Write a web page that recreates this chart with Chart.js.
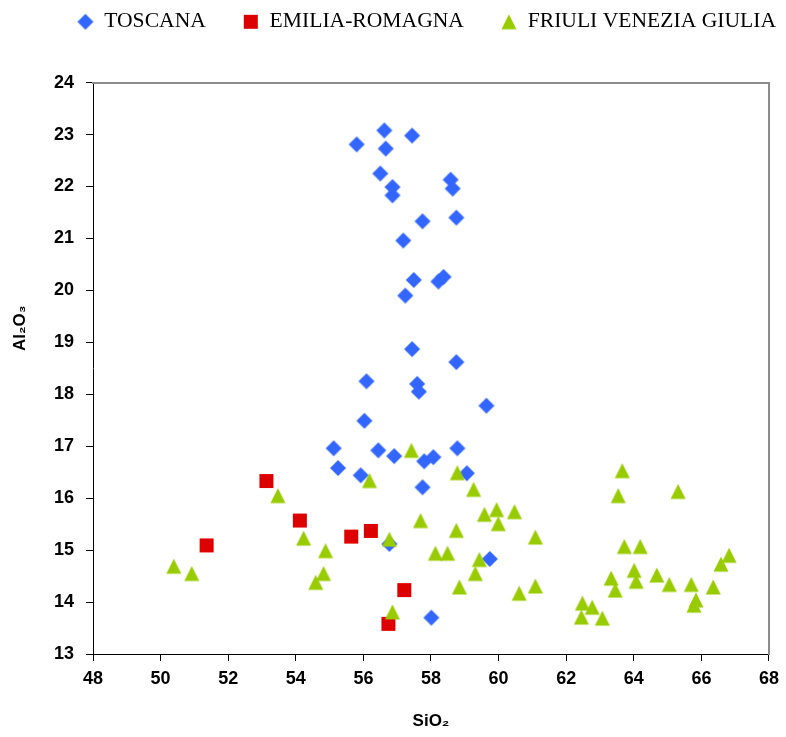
<!DOCTYPE html>
<html>
<head>
<meta charset="utf-8">
<script src="https://cdn.jsdelivr.net/npm/chart.js@4.4.0/dist/chart.umd.min.js"></script>
<style>
html,body{margin:0;padding:0;background:#fff;}
#wrap{width:786px;height:737px;position:relative;}
</style>
</head>
<body>
<div id="wrap"><canvas id="c" width="786" height="737"></canvas></div>
<script>
// ---- data ----
const seriesNames = ['TOSCANA', 'EMILIA-ROMAGNA', 'FRIULI VENEZIA GIULIA'];

const toscanaSiO2 = [55.80,56.62,56.66,57.44,56.50,56.86,56.86,58.58,58.64,57.75,58.75,57.18,57.49,58.22,58.37,57.24,57.44,58.75,56.09,57.59,57.64,59.64,56.03,55.12,56.44,58.78,55.25,56.91,57.80,58.07,59.06,55.92,57.75,56.77,59.74,58.01];
const toscanaAl2O3 = [22.81,23.08,22.73,22.98,22.25,21.99,21.83,22.13,21.96,21.33,21.40,20.96,20.20,20.17,20.26,19.90,18.87,18.62,18.25,18.20,18.05,17.78,17.49,16.96,16.92,16.96,16.58,16.81,16.71,16.79,16.48,16.44,16.21,15.12,14.83,13.70];

const emiliaSiO2 = [51.36,53.13,54.12,55.64,56.22,57.21,56.74];
const emiliaAl2O3 = [15.09,16.33,15.57,15.26,15.37,14.23,13.58];

const friuliSiO2 = [50.39,50.92,53.47,54.23,54.88,54.82,54.59,57.42,56.18,58.78,59.26,59.58,59.94,60.47,59.99,57.69,58.75,56.77,58.13,58.49,59.43,59.31,58.84,60.61,56.86,61.09,61.09,63.66,63.54,65.31,63.72,64.19,64.01,64.07,63.33,63.45,64.68,65.05,65.70,66.35,65.84,65.78,66.82,66.58,62.48,62.45,62.77,63.07];
const friuliAl2O3 = [14.69,14.55,16.05,15.23,14.99,14.55,14.38,16.92,16.34,16.49,16.17,15.69,15.78,15.74,15.51,15.57,15.38,15.21,14.94,14.94,14.82,14.55,14.29,14.17,13.81,15.25,14.31,16.53,16.05,16.13,15.07,15.07,14.61,14.40,14.46,14.23,14.52,14.34,14.34,14.29,14.04,13.94,14.90,14.73,13.98,13.71,13.90,13.69];

const xMin = 48, xMax = 68, xStep = 2;
const yMin = 13, yMax = 24, yStep = 1;
const xTitle = 'SiO\u2082';
const yTitle = 'Al\u2082O\u2083';

// ---- markers ----
function marker(kind, color) {
  const c = document.createElement('canvas');
  c.width = 18; c.height = 18;
  const g = c.getContext('2d');
  g.fillStyle = color;
  g.beginPath();
  if (kind === 'diamond') {
    g.moveTo(9, 1); g.lineTo(17, 9); g.lineTo(9, 17); g.lineTo(1, 9);
  } else if (kind === 'square') {
    g.rect(2, 2, 14, 14);
  } else {
    g.moveTo(9, 1.5); g.lineTo(16.5, 16.5); g.lineTo(1.5, 16.5);
  }
  g.closePath();
  g.fill();
  return c;
}
const blue = '#3366FF', red = '#DD0000', green = '#99CC00';

function pts(xs, ys) { return xs.map((x, i) => ({x: x, y: ys[i]})); }

const pad = (s, n) => s + ' '.repeat(n);

const frame = '#8C8C8C';
const tickFont = {family: 'Liberation Sans', size: 18, weight: 'bold'};
const titleFont = {family: "'Liberation Sans', 'DejaVu Sans'", size: 17, weight: 'bold'};

new Chart(document.getElementById('c'), {
  type: 'scatter',
  data: {
    datasets: [
      {label: pad(seriesNames[0], 5), data: pts(toscanaSiO2, toscanaAl2O3), pointStyle: marker('diamond', blue), backgroundColor: blue, borderColor: blue, order: 2},
      {label: pad(seriesNames[1], 5), data: pts(emiliaSiO2, emiliaAl2O3), pointStyle: marker('square', red), backgroundColor: red, borderColor: red, order: 1},
      {label: seriesNames[2], data: pts(friuliSiO2, friuliAl2O3), pointStyle: marker('triangle', green), backgroundColor: green, borderColor: green, order: 0}
    ]
  },
  options: {
    responsive: false,
    animation: false,
    events: [],
    layout: {padding: {top: 1, left: 0, right: 0, bottom: 0}},
    plugins: {
      tooltip: {enabled: false},
      legend: {
        position: 'top',
        align: 'end',
        labels: {
          usePointStyle: true,
          boxWidth: 16,
          boxHeight: 16,
          padding: 10,
          color: '#000',
          font: {family: 'Liberation Serif', size: 21.6},
          sort: (a, b) => a.datasetIndex - b.datasetIndex
        }
      }
    },
    scales: {
      x: {
        type: 'linear', position: 'bottom', min: xMin, max: xMax,
        afterFit: s => { s.height = 83; },
        ticks: {stepSize: xStep, color: '#000', font: tickFont, padding: 7, maxRotation: 0, autoSkip: false},
        grid: {drawOnChartArea: false, drawTicks: true, tickLength: 7, color: '#000'},
        border: {display: true, color: '#000', width: 1},
        title: {display: true, text: xTitle, color: '#000', font: titleFont, padding: {top: 0, bottom: 5}}
      },
      y: {
        type: 'linear', position: 'left', min: yMin, max: yMax,
        afterFit: s => { s.width = 93; },
        ticks: {stepSize: yStep, color: '#000', font: tickFont, padding: 12},
        grid: {drawOnChartArea: false, drawTicks: true, tickLength: 7, color: '#000'},
        border: {display: true, color: '#000', width: 1},
        title: {display: true, text: ' '.repeat(17) + yTitle, color: '#000', font: titleFont, padding: {top: 10, bottom: 0}}
      },
      xTop: {
        type: 'linear', position: 'top', min: xMin, max: xMax,
        afterFit: s => { s.height = 40; },
        ticks: {display: false},
        grid: {display: false},
        border: {display: true, color: frame, width: 2}
      },
      yRight: {
        type: 'linear', position: 'right', min: yMin, max: yMax,
        afterFit: s => { s.width = 15; },
        ticks: {display: false},
        grid: {display: false},
        border: {display: true, color: frame, width: 2}
      }
    }
  }
});
</script>
</body>
</html>
